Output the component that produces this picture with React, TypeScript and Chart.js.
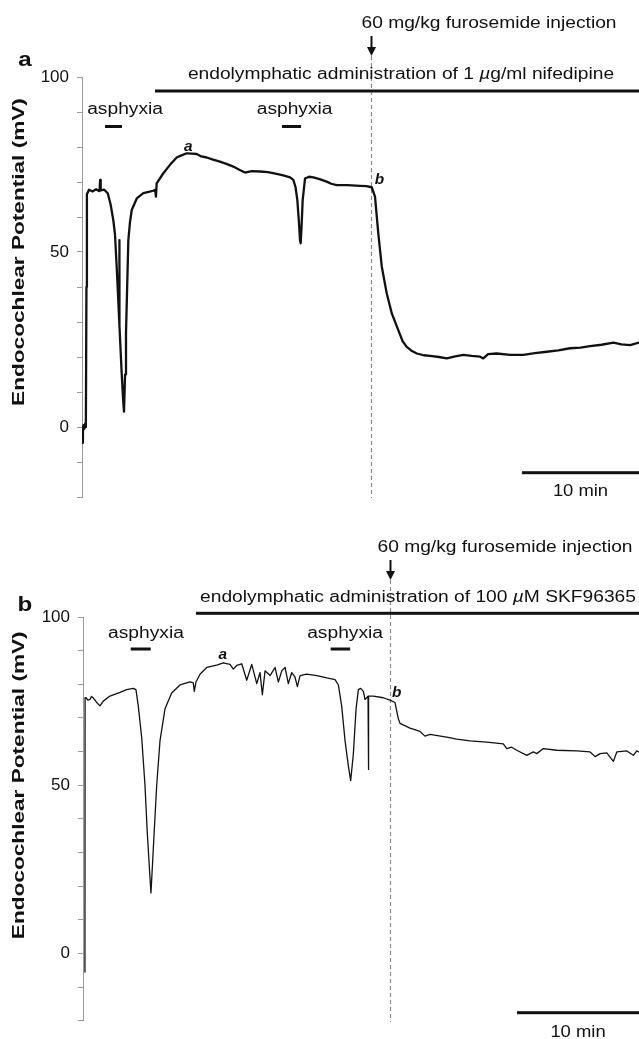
import React, { useEffect, useRef } from "react";
import { Chart, registerables } from "chart.js";

Chart.register(...registerables);

// ---------------- data (time in minutes, potential in mV) ----------------
const A_TIME = [
  0.0, 0.08, 0.12, 0.2, 0.28, 0.33, 0.38, 0.42, 0.6, 0.9,
  1.2, 1.5, 1.55, 1.6, 1.9, 2.2, 2.45, 2.68, 2.82, 2.96,
  3.1, 3.17, 3.19, 3.21, 3.39, 3.52, 3.59, 3.68, 3.76, 3.96,
  4.1, 4.25, 4.68, 5.24, 5.7, 6.09, 6.25, 6.32, 6.38, 6.95,
  7.52, 8.09, 8.5, 8.95, 9.4, 9.8, 10.2, 10.66, 11.2, 11.79,
  12.4, 12.93, 13.4, 13.93, 14.5, 15.21, 15.9, 16.64, 17.2, 17.78,
  18.06, 18.25, 18.4, 18.55, 18.63, 18.69, 18.76, 18.86, 19.06, 19.4,
  19.77, 20.3, 20.91, 21.3, 21.77, 22.7, 23.76, 24.3, 24.76, 25.04,
  25.32, 25.62, 26.04, 26.47, 27.03, 27.4, 27.75, 28.2, 28.61, 29.2,
  29.74, 30.5, 31.17, 31.9, 32.59, 33.3, 34.02, 34.3, 34.7, 35.44,
  36.6, 37.72, 38.7, 39.72, 40.7, 41.71, 42.6, 43.42, 44.4, 45.41,
  46.1, 46.84, 47.6,
];
const A_MV = [
  -4.5, -1.5, 0.5, -0.5, 1, 0, 40, 66.5, 67.8, 67.3,
  67.9, 67.4, 70.6, 67.6, 67.8, 66.8, 63.5, 59, 55, 46,
  36.3, 31, 53.4, 29, 15.4, 7.5, 4.4, 15, 26.9, 53.4,
  58.5, 62, 65.3, 66.8, 67.2, 67.5, 67.8, 65.8, 69.6, 72.5,
  74.9, 77, 77.6, 78.2, 78.1, 78, 77.3, 77, 76.4, 75.8,
  75.1, 74.4, 73.6, 72.7, 73.1, 73, 72.8, 72.3, 71.9, 71.3,
  70.6, 68.5, 64.9, 58, 53.4, 52.5, 57, 64.9, 71, 71.5,
  71.3, 70.8, 70.1, 69.5, 69.1, 69.1, 68.9, 68.8, 68.5, 65.8,
  55.3, 45.8, 38.2, 32.5, 27.7, 24.5, 22.9, 21.7, 21, 20.5,
  20.3, 20, 19.6, 20.2, 20.6, 20.3, 20.1, 19.6, 20.8, 21,
  20.6, 20.6, 21.1, 21.5, 21.9, 22.5, 22.7, 23.1, 23.5, 24.1,
  23.6, 23.4, 24.1,
];

const B_TIME = [
  0.12, 0.16, 0.17, 0.25, 0.4, 0.57, 0.7, 0.84, 1.12, 1.39,
  1.66, 2.21, 3.03, 3.58, 4.12, 4.34, 4.53, 4.81, 5.08, 5.27,
  5.49, 5.57, 5.63, 5.76, 6.04, 6.31, 6.72, 7.27, 7.95, 8.77,
  9.04, 9.12, 9.26, 9.59, 10.14, 10.96, 11.5, 12.05, 12.32, 12.6,
  13.01, 13.42, 13.83, 14.24, 14.51, 14.7, 14.92, 15.33, 15.74, 16.01,
  16.29, 16.56, 16.83, 17.11, 17.38, 17.57, 17.79, 18.34, 19.16, 19.98,
  20.66, 20.93, 21.2, 21.48, 21.75, 21.94, 22.16, 22.38, 22.57, 22.76,
  22.98, 23.11, 23.25, 23.36, 23.39, 23.42, 23.8, 24.61, 25.16, 25.57,
  25.84, 25.98, 26.8, 27.62, 28.03, 28.44, 29.81, 30.63, 31.72, 33.09,
  34.45, 34.73, 35.14, 35.55, 36.37, 36.91, 37.19, 37.73, 38.83, 40.47,
  41.56, 41.97, 42.38, 42.93, 43.47, 43.75, 44.57, 45.11, 45.39, 45.57,
];
const B_MV = [
  -5.5, -2, 76, 76, 75.3, 75.5, 76.4, 76, 74.6, 73.6,
  75, 76.5, 77.6, 78.4, 78.8, 78.4, 73.6, 64.2, 50, 35.8,
  22.6, 18, 22, 31, 50, 63.2, 72.7, 77.4, 79.8, 80.7,
  80.4, 77.9, 80.7, 83, 85, 85.7, 86.4, 85.9, 84.5, 85.6,
  86.1, 81.2, 85.9, 80.2, 83.5, 76.9, 84, 82.6, 85, 80.7,
  84, 85, 80.2, 83.5, 82.1, 79.3, 82.6, 83, 82.6, 81.9,
  81.4, 79.8, 73.6, 63.2, 55.7, 51.4, 59.4, 72.7, 78.4, 78.8,
  77.9, 75.5, 76, 76.5, 54.7, 76.5, 76.5, 76, 75.3, 74.6,
  69.8, 68.4, 67, 66, 64.6, 65.1, 64.3, 63.7, 63.2, 62.8,
  62.3, 60.9, 61.3, 60.4, 58.9, 59.9, 59.4, 60.9, 60.4, 60.2,
  59.9, 58.5, 59.4, 59.6, 57.1, 59.9, 60.2, 58.9, 60.2, 59.9,
];

const Y_TICK_LABELS = [0, 50, 100];
const Y_AXIS_TITLE = "Endocochlear Potential (mV)";
const INJECTION_TEXT = "60 mg/kg furosemide injection";
const ASPHYXIA_TEXT = "asphyxia";
const SCALE_BAR_MINUTES = 10;
const SCALE_BAR_TEXT = "10 min";

// panel a events (minutes)
const A_X_MAX = 47.6;
const A_INJECTION_T = 24.74;
const A_DRUG_START_T = 6.24;
const A_ASPHYXIA_START = [1.97, 17.09];
const A_ASPHYXIA_END = [3.42, 18.72];
const A_ASPHYXIA_LABEL_T = [3.68, 18.17];
const A_MARK_LABELS = ["a", "b"];
const A_MARK_T = [9.08, 25.41];
const A_MARK_MV = [80.1, 70.4];

// panel b events (minutes)
const B_X_MAX = 45.57;
const B_INJECTION_T = 25.16;
const B_DRUG_START_T = 9.26;
const B_ASPHYXIA_START = [3.91, 20.3];
const B_ASPHYXIA_END = [5.55, 21.89];
const B_ASPHYXIA_LABEL_T = [5.16, 21.48];
const B_MARK_LABELS = ["a", "b"];
const B_MARK_T = [11.45, 25.71];
const B_MARK_MV = [88.7, 77.4];

// ---------------- drawing helpers ----------------
const FAMILY = "'Liberation Sans', Arial, Helvetica, sans-serif";
const SX = 1.2;

type Part = { text: string; font: string };

function drawParts(
  ctx: CanvasRenderingContext2D,
  parts: Part[],
  x: number,
  y: number,
  align: "left" | "center" | "right",
  sx: number
) {
  ctx.save();
  ctx.textBaseline = "middle";
  ctx.textAlign = "left";
  ctx.fillStyle = "#111";
  let total = 0;
  const widths = parts.map((p) => {
    ctx.font = p.font;
    const w = ctx.measureText(p.text).width;
    total += w;
    return w;
  });
  ctx.translate(x, y);
  ctx.scale(sx, 1);
  let cx = align === "center" ? -total / 2 : align === "right" ? -total : 0;
  parts.forEach((p, i) => {
    ctx.font = p.font;
    ctx.fillText(p.text, cx, 0);
    cx += widths[i];
  });
  ctx.restore();
}

const F16 = `16px ${FAMILY}`;
const F16I = `italic 16px ${FAMILY}`;

type PanelCfg = {
  letter: string;
  top: number;
  height: number;
  padTop: number;
  padBottom: number;
  axisWidth: number;
  time: number[];
  mv: number[];
  lineWidth: number;
  xMax: number;
  injectionT: number;
  drugStartT: number;
  aspStart: number[];
  aspEnd: number[];
  aspLabelT: number[];
  markLabels: string[];
  markT: number[];
  markMv: number[];
  drugParts: Part[];
  pos: {
    letterX: number;
    letterY: number;
    injTextX: number;
    injTextY: number;
    arrowTop: number;
    arrowTip: number;
    drugTextX: number;
    drugTextY: number;
    drugBarY: number;
    aspTextY: number;
    aspBarY: number;
    dashTop: number;
    dashBottom: number;
    barY: number;
    barTextY: number;
    titleX: number;
  };
};

const PANELS: PanelCfg[] = [
  {
    letter: "a",
    top: 0,
    height: 520,
    padTop: 77,
    padBottom: 23,
    axisWidth: 82,
    time: A_TIME,
    mv: A_MV,
    lineWidth: 2.3,
    xMax: A_X_MAX,
    injectionT: A_INJECTION_T,
    drugStartT: A_DRUG_START_T,
    aspStart: A_ASPHYXIA_START,
    aspEnd: A_ASPHYXIA_END,
    aspLabelT: A_ASPHYXIA_LABEL_T,
    markLabels: A_MARK_LABELS,
    markT: A_MARK_T,
    markMv: A_MARK_MV,
    drugParts: [
      { text: "endolymphatic administration of 1 ", font: F16 },
      { text: "\u00b5", font: F16I },
      { text: "g/ml nifedipine", font: F16 },
    ],
    pos: {
      letterX: 25,
      letterY: 60,
      injTextX: 489,
      injTextY: 24,
      arrowTop: 36,
      arrowTip: 56,
      drugTextX: 401,
      drugTextY: 75,
      drugBarY: 91,
      aspTextY: 110,
      aspBarY: 126.5,
      dashTop: 56,
      dashBottom: 498,
      barY: 472.7,
      barTextY: 491.7,
      titleX: 19,
    },
  },
  {
    letter: "b",
    top: 520,
    height: 519,
    padTop: 97,
    padBottom: 0,
    axisWidth: 83,
    time: B_TIME,
    mv: B_MV,
    lineWidth: 1.3,
    xMax: B_X_MAX,
    injectionT: B_INJECTION_T,
    drugStartT: B_DRUG_START_T,
    aspStart: B_ASPHYXIA_START,
    aspEnd: B_ASPHYXIA_END,
    aspLabelT: B_ASPHYXIA_LABEL_T,
    markLabels: B_MARK_LABELS,
    markT: B_MARK_T,
    markMv: B_MARK_MV,
    drugParts: [
      { text: "endolymphatic administration of 100 ", font: F16 },
      { text: "\u00b5", font: F16I },
      { text: "M SKF96365", font: F16 },
    ],
    pos: {
      letterX: 25,
      letterY: 85,
      injTextX: 505,
      injTextY: 28,
      arrowTop: 40,
      arrowTip: 60,
      drugTextX: 418,
      drugTextY: 78,
      drugBarY: 93.3,
      aspTextY: 114,
      aspBarY: 129,
      dashTop: 60,
      dashBottom: 502,
      barY: 492.7,
      barTextY: 513,
      titleX: 19,
    },
  },
];

function makePlugin(cfg: PanelCfg) {
  return {
    id: "annot_" + cfg.letter,
    beforeDatasetsDraw(chart: any) {
      const ctx = chart.ctx as CanvasRenderingContext2D;
      const xs = chart.scales.x;
      const p = cfg.pos;
      const x = Math.round(xs.getPixelForValue(cfg.injectionT)) + 0.5;
      ctx.save();
      ctx.strokeStyle = "#8a8a8a";
      ctx.lineWidth = 1.2;
      ctx.setLineDash([4, 3]);
      ctx.beginPath();
      ctx.moveTo(x, p.dashTop);
      ctx.lineTo(x, p.dashBottom);
      ctx.stroke();
      ctx.restore();
    },
    afterDraw(chart: any) {
      const ctx = chart.ctx as CanvasRenderingContext2D;
      const xs = chart.scales.x;
      const ys = chart.scales.y;
      const p = cfg.pos;
      const area = chart.chartArea;

      // panel letter
      drawParts(ctx, [{ text: cfg.letter, font: `bold 21px ${FAMILY}` }], p.letterX, p.letterY, "center", 1.15);

      // injection label + arrow
      drawParts(ctx, [{ text: INJECTION_TEXT, font: F16 }], p.injTextX, p.injTextY, "center", SX);
      const ax = Math.round(xs.getPixelForValue(cfg.injectionT)) + 0.5;
      ctx.save();
      ctx.fillStyle = "#111";
      ctx.strokeStyle = "#111";
      ctx.lineWidth = 2;
      ctx.beginPath();
      ctx.moveTo(ax, p.arrowTop);
      ctx.lineTo(ax, p.arrowTip - 7);
      ctx.stroke();
      ctx.beginPath();
      ctx.moveTo(ax - 4.5, p.arrowTip - 9);
      ctx.lineTo(ax + 4.5, p.arrowTip - 9);
      ctx.lineTo(ax, p.arrowTip);
      ctx.closePath();
      ctx.fill();
      ctx.restore();

      // drug administration label + bar
      drawParts(ctx, cfg.drugParts, p.drugTextX, p.drugTextY, "center", SX);
      ctx.save();
      ctx.fillStyle = "#111";
      const dx0 = xs.getPixelForValue(cfg.drugStartT);
      ctx.fillRect(dx0, p.drugBarY - 1.5, area.right - dx0 + 2, 3);

      // asphyxia labels + bars
      cfg.aspStart.forEach((s, i) => {
        const x0 = xs.getPixelForValue(s);
        const x1 = xs.getPixelForValue(cfg.aspEnd[i]);
        ctx.fillRect(x0, p.aspBarY - 1.5, x1 - x0, 3);
      });
      ctx.restore();
      cfg.aspLabelT.forEach((t) => {
        drawParts(ctx, [{ text: ASPHYXIA_TEXT, font: F16 }], xs.getPixelForValue(t), p.aspTextY, "center", SX);
      });

      // trace markers a / b
      cfg.markLabels.forEach((lab, i) => {
        drawParts(
          ctx,
          [{ text: lab, font: `italic bold 14px ${FAMILY}` }],
          xs.getPixelForValue(cfg.markT[i]),
          ys.getPixelForValue(cfg.markMv[i]),
          "center",
          1.1
        );
      });

      // time scale bar
      const bx0 = xs.getPixelForValue(cfg.xMax - SCALE_BAR_MINUTES);
      const bx1 = xs.getPixelForValue(cfg.xMax);
      ctx.save();
      ctx.fillStyle = "#111";
      ctx.fillRect(bx0, p.barY - 1.5, bx1 - bx0 + 2, 3);
      ctx.restore();
      drawParts(ctx, [{ text: SCALE_BAR_TEXT, font: F16 }], (bx0 + bx1) / 2, p.barTextY, "center", 1.15);

      // y-axis title (rotated)
      ctx.save();
      ctx.fillStyle = "#111";
      ctx.translate(p.titleX, ys.getPixelForValue(50));
      ctx.rotate(-Math.PI / 2);
      ctx.scale(1.33, 1);
      ctx.font = `bold 17px ${FAMILY}`;
      ctx.textAlign = "center";
      ctx.textBaseline = "middle";
      ctx.fillText(Y_AXIS_TITLE, 0, 0);
      ctx.restore();
    },
  };
}

function Panel({ cfg }: { cfg: PanelCfg }) {
  const ref = useRef<HTMLCanvasElement | null>(null);
  useEffect(() => {
    if (!ref.current) return;
    const points = cfg.time.map((t, i) => ({ x: t, y: cfg.mv[i] }));
    const chart = new Chart(ref.current, {
      type: "line",
      data: {
        datasets: [
          {
            data: points,
            borderColor: "#111",
            borderWidth: cfg.lineWidth,
            pointRadius: 0,
            tension: 0,
            fill: false,
            borderJoinStyle: "round",
          },
        ],
      },
      options: {
        animation: false,
        responsive: false,
        maintainAspectRatio: false,
        layout: { padding: { left: 0, right: 0, top: cfg.padTop, bottom: cfg.padBottom } },
        plugins: { legend: { display: false }, tooltip: { enabled: false } },
        scales: {
          x: { type: "linear", min: 0, max: cfg.xMax, display: false },
          y: {
            type: "linear",
            min: -20,
            max: 100,
            afterFit: (s: any) => {
              s.width = cfg.axisWidth;
            },
            border: { display: true, color: "#9a9a9a", width: 1 },
            grid: { drawOnChartArea: false, drawTicks: true, tickLength: 5, color: "#9a9a9a" },
            ticks: {
              stepSize: 10,
              autoSkip: false,
              padding: 8,
              color: "#111",
              font: { family: FAMILY, size: 17 },
              callback: (v: any) => (Y_TICK_LABELS.includes(Number(v)) ? String(v) : ""),
            },
          },
        },
      },
      plugins: [makePlugin(cfg)],
    } as any);
    return () => chart.destroy();
  }, [cfg]);
  return (
    <canvas
      ref={ref}
      width={639}
      height={cfg.height}
      style={{ position: "absolute", left: 0, top: cfg.top, width: 639, height: cfg.height, display: "block" }}
    />
  );
}

export default function App() {
  return (
    <div style={{ position: "absolute", left: 0, top: 0, width: 639, height: 1039, background: "#fff", overflow: "hidden" }}>
      {PANELS.map((cfg) => (
        <Panel key={cfg.letter} cfg={cfg} />
      ))}
    </div>
  );
}
